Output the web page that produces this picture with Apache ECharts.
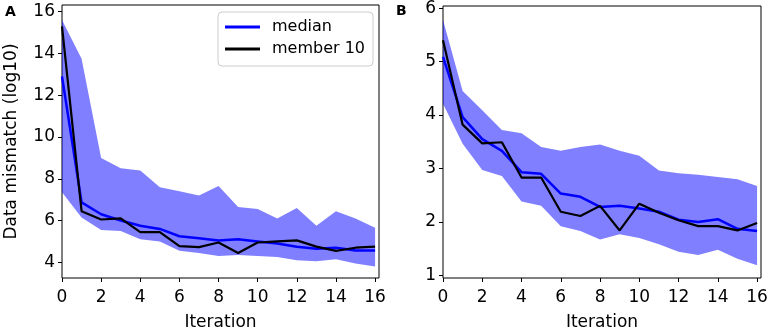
<!DOCTYPE html>
<html>
<head>
<meta charset="utf-8">
<script src="https://cdn.jsdelivr.net/npm/echarts@6/dist/echarts.min.js"></script>
<style>html,body{margin:0;padding:0;background:#fff}#c{width:768px;height:329px}</style>
</head>
<body>
<div id="c"></div>
<script>
var iterations = [0,1,2,3,4,5,6,7,8,9,10,11,12,13,14,15,16];
var xTicks = [0,2,4,6,8,10,12,14,16];

// Panel A
var aUpper  = [15.6,13.75,9.0,8.5,8.4,7.6,7.4,7.2,7.65,6.65,6.55,6.1,6.6,5.75,6.45,6.1,5.65];
var aLower  = [7.35,6.15,5.55,5.5,5.1,5.0,4.55,4.45,4.3,4.35,4.3,4.25,4.1,4.05,4.15,3.95,3.8];
var aMedian = [12.9,6.87,6.3,6.0,5.75,5.6,5.25,5.15,5.05,5.1,5.0,4.9,4.75,4.65,4.7,4.57,4.57];
var aMember = [15.3,6.45,6.05,6.1,5.45,5.45,4.78,4.73,4.95,4.45,4.95,5.0,5.05,4.75,4.55,4.7,4.75];
var aYTicks = [4,6,8,10,12,14,16];

// Panel B
var bUpper  = [5.78,4.45,4.09,3.72,3.66,3.4,3.33,3.4,3.45,3.33,3.24,2.96,2.91,2.88,2.84,2.8,2.67];
var bLower  = [4.21,3.46,2.97,2.86,2.38,2.3,1.92,1.83,1.67,1.77,1.7,1.58,1.44,1.38,1.48,1.31,1.19];
var bMedian = [5.09,3.96,3.55,3.33,2.93,2.9,2.53,2.47,2.28,2.3,2.25,2.19,2.04,2.0,2.05,1.87,1.83];
var bMember = [5.4,3.82,3.47,3.49,2.83,2.83,2.19,2.11,2.3,1.84,2.34,2.17,2.03,1.92,1.92,1.84,1.98];
var bYTicks = [1,2,3,4,5,6];

var FONT = 'DejaVu Sans';
var FS = 17;
function pairs(ys){ return iterations.map(function(x,i){ return [x, ys[i]]; }); }
function bandSeries(idx, lower, upper){
  return {
    type: 'custom', xAxisIndex: idx, yAxisIndex: idx, silent: true, z: 1,
    data: iterations.map(function(x,i){ return [x, lower[i], upper[i]]; }),
    encode: {x: 0, y: [1, 2]},
    renderItem: function(params, api){
      if (params.dataIndex !== 0) return;
      var pts = [];
      for (var i = 0; i < iterations.length; i++) pts.push(api.coord([iterations[i], upper[i]]));
      for (var j = iterations.length - 1; j >= 0; j--) pts.push(api.coord([iterations[j], lower[j]]));
      return {type: 'polygon', shape: {points: pts}, style: {fill: 'rgba(0,0,255,0.5)', stroke: null}};
    }
  };
}
function xAxis(idx){
  return {
    type: 'value', gridIndex: idx, min: 0, max: 16.2,
    name: 'Iteration', nameLocation: 'middle', nameGap: 36,
    nameTextStyle: {fontFamily: FONT, fontSize: FS, color: '#000'},
    axisLine: {show: false},
    axisTick: {show: true, inside: false, length: 4, lineStyle: {color: '#000'}, customValues: xTicks},
    axisLabel: {fontFamily: FONT, fontSize: FS, color: '#000', margin: 11, customValues: xTicks},
    splitLine: {show: false}
  };
}
function yAxis(idx, min, max, ticks, name){
  return {
    type: 'value', gridIndex: idx, min: min, max: max,
    name: name, nameLocation: 'middle', nameGap: 42,
    nameTextStyle: {fontFamily: FONT, fontSize: FS, color: '#000'},
    axisLine: {show: false},
    axisTick: {show: true, inside: false, length: 4, lineStyle: {color: '#000'}, customValues: ticks},
    axisLabel: {fontFamily: FONT, fontSize: FS, color: '#000', margin: 7, customValues: ticks},
    splitLine: {show: false}
  };
}
function lineSeries(idx, name, ys, color, width, z){
  return {
    type: 'line', name: name, xAxisIndex: idx, yAxisIndex: idx, data: pairs(ys),
    showSymbol: false, symbol: 'none', z: z,
    lineStyle: {color: color, width: width}, itemStyle: {color: color}
  };
}

var chart = echarts.init(document.getElementById('c'), null, {renderer: 'canvas'});
chart.setOption({
  animation: false,
  backgroundColor: '#fff',
  grid: [
    {left: 62, top: 5, width: 317, height: 273, show: true, borderColor: '#000', borderWidth: 1, backgroundColor: 'transparent', containLabel: false, outerBoundsMode: 'none'},
    {left: 443, top: 6, width: 318, height: 272, show: true, borderColor: '#000', borderWidth: 1, backgroundColor: 'transparent', containLabel: false, outerBoundsMode: 'none'}
  ],
  title: [
    {text: 'A', left: 5, top: 5, padding: 0, textStyle: {fontFamily: FONT, fontSize: 14, fontWeight: 'bold', color: '#000'}},
    {text: 'B', left: 396, top: 4, padding: 0, textStyle: {fontFamily: FONT, fontSize: 14, fontWeight: 'bold', color: '#000'}}
  ],
  legend: {
    data: [{name: 'median', icon: 'rect'}, {name: 'member 10', icon: 'rect'}],
    orient: 'vertical', left: 218, top: 12,
    itemWidth: 35, itemHeight: 3, itemGap: 6,
    padding: [7, 8, 9, 7],
    borderColor: '#cccccc', borderWidth: 1, borderRadius: 4,
    textStyle: {fontFamily: FONT, fontSize: 16, color: '#000', padding: [0, 0, 0, 7], lineHeight: 16}
  },
  xAxis: [xAxis(0), xAxis(1)],
  yAxis: [yAxis(0, 3.25, 16.32, aYTicks, 'Data mismatch (log10)'), yAxis(1, 0.95, 6.04, bYTicks, '')],
  series: [
    bandSeries(0, aLower, aUpper),
    lineSeries(0, 'median', aMedian, '#0000ff', 2.5, 3),
    lineSeries(0, 'member 10', aMember, '#000000', 2.2, 4),
    bandSeries(1, bLower, bUpper),
    lineSeries(1, 'median', bMedian, '#0000ff', 2.5, 3),
    lineSeries(1, 'member 10', bMember, '#000000', 2.2, 4)
  ]
});
</script>
</body>
</html>
